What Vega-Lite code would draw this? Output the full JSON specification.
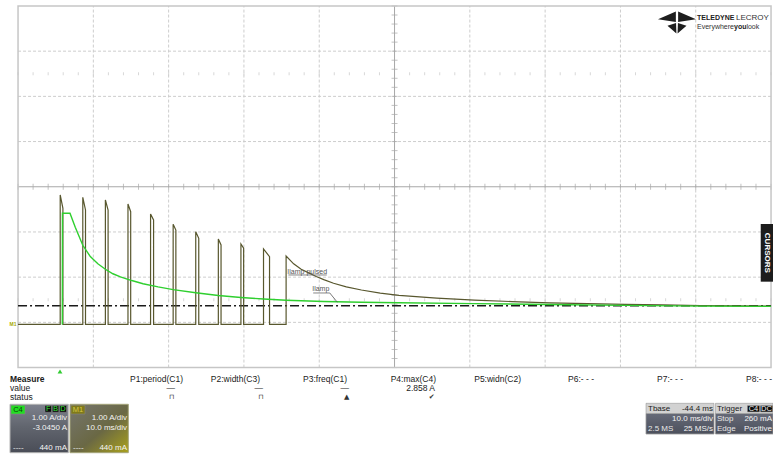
{
  "$schema": "https://vega.github.io/schema/vega-lite/v6.json",
  "padding": 0,
  "spacing": 0,
  "bounds": "flush",
  "background": "#ffffff",
  "config": {"view": {"stroke": null}, "font": "Liberation Sans"},
  "datasets": {
    "grid_t": [{"t": 4.4}, {"t": 14.4}, {"t": 24.4}, {"t": 34.4}, {"t": 54.4}, {"t": 64.4}, {"t": 74.4}, {"t": 84.4}],
    "grid_a": [{"a": 0.045}, {"a": 1.045}, {"a": 2.045}, {"a": 4.045}, {"a": 5.045}, {"a": 6.045}],
    "minor_t": [{"t": -5.6}, {"t": -3.6}, {"t": -1.6}, {"t": 0.4}, {"t": 2.4}, {"t": 4.4}, {"t": 6.4}, {"t": 8.4}, {"t": 10.4}, {"t": 12.4}, {"t": 14.4}, {"t": 16.4}, {"t": 18.4}, {"t": 20.4}, {"t": 22.4}, {"t": 24.4}, {"t": 26.4}, {"t": 28.4}, {"t": 30.4}, {"t": 32.4}, {"t": 34.4}, {"t": 36.4}, {"t": 38.4}, {"t": 40.4}, {"t": 42.4}, {"t": 44.4}, {"t": 46.4}, {"t": 48.4}, {"t": 50.4}, {"t": 52.4}, {"t": 54.4}, {"t": 56.4}, {"t": 58.4}, {"t": 60.4}, {"t": 62.4}, {"t": 64.4}, {"t": 66.4}, {"t": 68.4}, {"t": 70.4}, {"t": 72.4}, {"t": 74.4}, {"t": 76.4}, {"t": 78.4}, {"t": 80.4}, {"t": 82.4}, {"t": 84.4}, {"t": 86.4}, {"t": 88.4}, {"t": 90.4}, {"t": 92.4}, {"t": 94.4}],
    "minor_a": [{"a": -0.955}, {"a": -0.755}, {"a": -0.555}, {"a": -0.355}, {"a": -0.155}, {"a": 0.045}, {"a": 0.245}, {"a": 0.445}, {"a": 0.645}, {"a": 0.845}, {"a": 1.045}, {"a": 1.245}, {"a": 1.445}, {"a": 1.645}, {"a": 1.845}, {"a": 2.045}, {"a": 2.245}, {"a": 2.445}, {"a": 2.645}, {"a": 2.845}, {"a": 3.045}, {"a": 3.245}, {"a": 3.445}, {"a": 3.645}, {"a": 3.845}, {"a": 4.045}, {"a": 4.245}, {"a": 4.445}, {"a": 4.645}, {"a": 4.845}, {"a": 5.045}, {"a": 5.245}, {"a": 5.445}, {"a": 5.645}, {"a": 5.845}, {"a": 6.045}, {"a": 6.245}, {"a": 6.445}, {"a": 6.645}, {"a": 6.845}, {"a": 7.045}],
    "frame": [{"t": -5.6, "t2": 94.4, "a": -0.955, "a2": 7.045}],
    "reference": [{"t": -5.6, "t2": 94.4, "a": 0.414}],
    "pulsed": [
      {"t": -5.6, "a": 0}, {"t": 0, "a": 0}, {"t": 0, "a": 2.863}, {"t": 0.36, "a": 2.569}, {"t": 0.36, "a": 0},
      {"t": 3, "a": 0}, {"t": 3, "a": 2.812}, {"t": 3.36, "a": 2.531}, {"t": 3.36, "a": 0},
      {"t": 6, "a": 0}, {"t": 6, "a": 2.752}, {"t": 6.36, "a": 2.531}, {"t": 6.36, "a": 0},
      {"t": 9, "a": 0}, {"t": 9, "a": 2.664}, {"t": 9.36, "a": 2.493}, {"t": 9.36, "a": 0},
      {"t": 12, "a": 0}, {"t": 12, "a": 2.442}, {"t": 12.4, "a": 2.31}, {"t": 12.4, "a": 0},
      {"t": 15, "a": 0}, {"t": 15, "a": 2.215}, {"t": 15.36, "a": 2.088}, {"t": 15.36, "a": 0},
      {"t": 18, "a": 0}, {"t": 18, "a": 2.051}, {"t": 18.4, "a": 1.905}, {"t": 18.4, "a": 0},
      {"t": 21, "a": 0}, {"t": 21, "a": 1.889}, {"t": 21.36, "a": 1.757}, {"t": 21.36, "a": 0},
      {"t": 24, "a": 0}, {"t": 24, "a": 1.779}, {"t": 24.36, "a": 1.684}, {"t": 24.36, "a": 0},
      {"t": 27, "a": 0}, {"t": 27, "a": 1.668}, {"t": 27.8, "a": 1.498}, {"t": 27.8, "a": 0},
      {"t": 30, "a": 0}, {"t": 30, "a": 1.513}, {"t": 31, "a": 1.34}, {"t": 32, "a": 1.22}, {"t": 33, "a": 1.14}, {"t": 34, "a": 1.06}, {"t": 35, "a": 0.99}, {"t": 36.3, "a": 0.91}, {"t": 38, "a": 0.83}, {"t": 40, "a": 0.76}, {"t": 42.5, "a": 0.69}, {"t": 45, "a": 0.64}, {"t": 50, "a": 0.58}, {"t": 55, "a": 0.535}, {"t": 60, "a": 0.505}, {"t": 65, "a": 0.478}, {"t": 70, "a": 0.458}, {"t": 75, "a": 0.442}, {"t": 80, "a": 0.43}, {"t": 85, "a": 0.418}, {"t": 90, "a": 0.41}, {"t": 94.4, "a": 0.405}
    ],
    "lamp": [
      {"t": 0.28, "a": 0}, {"t": 0.3, "a": 2.458}, {"t": 1.3, "a": 2.458}, {"t": 2.0, "a": 2.15}, {"t": 3.0, "a": 1.75}, {"t": 4.0, "a": 1.5}, {"t": 5.0, "a": 1.34}, {"t": 6.0, "a": 1.22}, {"t": 7.0, "a": 1.12}, {"t": 8.0, "a": 1.05}, {"t": 9.5, "a": 0.97}, {"t": 11, "a": 0.9}, {"t": 13, "a": 0.83}, {"t": 15, "a": 0.77}, {"t": 18, "a": 0.7}, {"t": 21, "a": 0.64}, {"t": 24, "a": 0.595}, {"t": 27, "a": 0.56}, {"t": 30, "a": 0.535}, {"t": 35, "a": 0.505}, {"t": 40, "a": 0.49}, {"t": 45, "a": 0.478}, {"t": 55, "a": 0.46}, {"t": 65, "a": 0.44}, {"t": 75, "a": 0.42}, {"t": 85, "a": 0.405}, {"t": 94.4, "a": 0.398}
    ],
    "notes": [{"t": 32.8, "a": 1.159, "label": "Ilamp pulsed"}, {"t": 34.6, "a": 0.783, "label": "Ilamp"}],
    "underlines": [{"t": 30.3, "t2": 35.4, "a": 1.093}, {"t": 33.6, "t2": 35.8, "a": 0.695}],
    "leaders": [{"t": 35.8, "a": 0.695, "t2": 36.8, "a2": 0.49}],
    "tab": [{"t": 93.03, "t2": 94.66, "a": 0.945, "a2": 2.221}],
    "tab_label": [{"t": 93.85, "a": 1.583, "label": "CURSORS"}],
    "logo_mark": [{"t": 81.91, "a": 6.69}],
    "logo_bold": [{"t": 84.57, "a": 6.768, "label": "TELEDYNE"}, {"t": 89.48, "a": 6.58, "label": "you"}],
    "logo_big": [{"t": 89.75, "a": 6.768, "label": "LECROY"}],
    "logo_small": [{"t": 84.57, "a": 6.58, "label": "Everywhere"}, {"t": 91.13, "a": 6.58, "label": "look"}],
    "ch_marker": [{"t": -6.27, "a": 0, "label": "M1"}],
    "panel_title": [{"col": 10, "row": 11, "label": "Measure"}],
    "panel_rowlabels": [{"col": 10, "row": 20, "label": "value"}, {"col": 10, "row": 28.5, "label": "status"}],
    "panel_headers": [
      {"col": 183, "row": 11, "label": "P1:period(C1)"}, {"col": 260, "row": 11, "label": "P2:width(C3)"}, {"col": 347, "row": 11, "label": "P3:freq(C1)"}, {"col": 436, "row": 11, "label": "P4:max(C4)"}, {"col": 521, "row": 11, "label": "P5:widn(C2)"}, {"col": 594, "row": 11, "label": "P6:- - -"}, {"col": 683, "row": 11, "label": "P7:- - -"}, {"col": 772, "row": 11, "label": "P8:- - -"},
      {"col": 175, "row": 20, "label": "—"}, {"col": 263, "row": 20, "label": "—"}, {"col": 349, "row": 20, "label": "—"}, {"col": 435, "row": 20, "label": "2.858 A"}
    ],
    "panel_icons": [{"col": 171.7, "row": 28.5, "label": "⊓"}, {"col": 261, "row": 28.5, "label": "⊓"}, {"col": 346.7, "row": 28.5, "label": "▲"}, {"col": 431.7, "row": 28.5, "label": "✔"}],
    "box_c4": [{"col": 10, "col2": 68.3, "row": 36.3, "row2": 84.7}],
    "box_m1": [{"col": 70, "col2": 128.3, "row": 36.3, "row2": 84.7}],
    "box_bodies": [{"col": 646, "col2": 714, "row": 45.5, "row2": 66}, {"col": 715.5, "col2": 773, "row": 45.5, "row2": 66}],
    "badges": [
      {"col": 646, "col2": 714, "row": 35.3, "row2": 45.5, "kind": "head"}, {"col": 715.5, "col2": 773, "row": 35.3, "row2": 45.5, "kind": "head"},
      {"col": 11, "col2": 25, "row": 37.3, "row2": 46, "kind": "C4"}, {"col": 71, "col2": 85, "row": 37.3, "row2": 46, "kind": "M1"},
      {"col": 45, "col2": 51.5, "row": 37.5, "row2": 44.2, "kind": "flag"}, {"col": 52.3, "col2": 58.8, "row": 37.5, "row2": 44.2, "kind": "flag"}, {"col": 59.6, "col2": 66.5, "row": 37.5, "row2": 44.2, "kind": "flag"},
      {"col": 747.5, "col2": 759.5, "row": 37.7, "row2": 43.9, "kind": "flag"}, {"col": 760.5, "col2": 772.5, "row": 37.7, "row2": 43.9, "kind": "flag"}
    ],
    "badge_labels": [
      {"col": 18, "row": 41.7, "label": "C4", "kind": "C4"}, {"col": 78, "row": 41.7, "label": "M1", "kind": "M1"},
      {"col": 48.3, "row": 40.9, "label": "F", "kind": "flag"}, {"col": 55.5, "row": 40.9, "label": "B", "kind": "flag"}, {"col": 63, "row": 40.9, "label": "D", "kind": "flag"},
      {"col": 753.5, "row": 40.8, "label": "C4", "kind": "trig"}, {"col": 766.5, "row": 40.8, "label": "DC", "kind": "trig"}
    ],
    "box_right": [
      {"col": 67, "row": 49.7, "label": "1.00 A/div"}, {"col": 67, "row": 60.3, "label": "-3.0450 A"}, {"col": 67, "row": 80.3, "label": "440 mA"},
      {"col": 127, "row": 50.3, "label": "1.00 A/div"}, {"col": 127, "row": 60.3, "label": "10.0 ms/div"}, {"col": 127, "row": 80.3, "label": "440 mA"},
      {"col": 713, "row": 50.5, "label": "10.0 ms/div"}, {"col": 713, "row": 60.5, "label": "25 MS/s"},
      {"col": 772, "row": 50.5, "label": "260 mA"}, {"col": 772, "row": 60.5, "label": "Positive"}
    ],
    "box_left": [
      {"col": 13, "row": 80.3, "label": "----"}, {"col": 73, "row": 80.3, "label": "----"},
      {"col": 648, "row": 60.5, "label": "2.5 MS"}, {"col": 717, "row": 50.5, "label": "Stop"}, {"col": 717, "row": 60.5, "label": "Edge"}
    ],
    "head_left": [{"col": 648, "row": 40.5, "label": "Tbase"}, {"col": 717, "row": 40.5, "label": "Trigger"}],
    "head_right": [{"col": 713, "row": 40.5, "label": "-44.4 ms"}],
    "trigger": [{"col": 60, "row": 3.5}]
  },
  "vconcat": [
    {
      "width": 773,
      "height": 368,
      "layer": [
        {"data": {"name": "grid_t"}, "mark": {"type": "rule", "color": "#cdcdcd", "strokeWidth": 1, "strokeDash": [3, 2]},
         "encoding": {"x": {"field": "t", "type": "quantitative", "scale": {"domain": [-7.995, 94.66], "nice": false, "zero": false}, "axis": null},
                      "y": {"datum": -0.955, "type": "quantitative", "scale": {"domain": [-0.965, 7.177], "nice": false, "zero": false}, "axis": null},
                      "y2": {"datum": 7.045}}},
        {"data": {"name": "grid_a"}, "mark": {"type": "rule", "color": "#cdcdcd", "strokeWidth": 1, "strokeDash": [3, 2]},
         "encoding": {"y": {"field": "a", "type": "quantitative", "scale": {"domain": [-0.965, 7.177], "nice": false, "zero": false}, "axis": null},
                      "x": {"datum": -5.6, "type": "quantitative", "scale": {"domain": [-7.995, 94.66], "nice": false, "zero": false}, "axis": null},
                      "x2": {"datum": 94.4}}},
        {"data": {"name": "minor_t"}, "mark": {"type": "tick", "orient": "vertical", "size": 3, "thickness": 1, "color": "#c8c8c8"},
         "encoding": {"x": {"field": "t", "type": "quantitative", "scale": {"domain": [-7.995, 94.66], "nice": false, "zero": false}, "axis": null},
                      "y": {"datum": 5.545, "type": "quantitative", "scale": {"domain": [-0.965, 7.177], "nice": false, "zero": false}, "axis": null}}},
        {"data": {"name": "minor_t"}, "mark": {"type": "tick", "orient": "vertical", "size": 3, "thickness": 1, "color": "#c8c8c8"},
         "encoding": {"x": {"field": "t", "type": "quantitative", "scale": {"domain": [-7.995, 94.66], "nice": false, "zero": false}, "axis": null},
                      "y": {"datum": 0.545, "type": "quantitative", "scale": {"domain": [-0.965, 7.177], "nice": false, "zero": false}, "axis": null}}},
        {"data": {"name": "minor_t"}, "mark": {"type": "tick", "orient": "vertical", "size": 6, "thickness": 1, "color": "#a8a8a8"},
         "encoding": {"x": {"field": "t", "type": "quantitative", "scale": {"domain": [-7.995, 94.66], "nice": false, "zero": false}, "axis": null},
                      "y": {"datum": 3.045, "type": "quantitative", "scale": {"domain": [-0.965, 7.177], "nice": false, "zero": false}, "axis": null}}},
        {"data": {"name": "minor_a"}, "mark": {"type": "tick", "orient": "horizontal", "size": 6, "thickness": 1, "color": "#a8a8a8"},
         "encoding": {"y": {"field": "a", "type": "quantitative", "scale": {"domain": [-0.965, 7.177], "nice": false, "zero": false}, "axis": null},
                      "x": {"datum": 44.4, "type": "quantitative", "scale": {"domain": [-7.995, 94.66], "nice": false, "zero": false}, "axis": null}}},
        {"data": {"name": "frame"}, "mark": {"type": "rule", "color": "#a8a8a8", "strokeWidth": 1},
         "encoding": {"x": {"field": "t", "type": "quantitative", "scale": {"domain": [-7.995, 94.66], "nice": false, "zero": false}, "axis": null},
                      "x2": {"field": "t2"},
                      "y": {"datum": 3.045, "type": "quantitative", "scale": {"domain": [-0.965, 7.177], "nice": false, "zero": false}, "axis": null}}},
        {"data": {"name": "frame"}, "mark": {"type": "rule", "color": "#a8a8a8", "strokeWidth": 1},
         "encoding": {"y": {"field": "a", "type": "quantitative", "scale": {"domain": [-0.965, 7.177], "nice": false, "zero": false}, "axis": null},
                      "y2": {"field": "a2"},
                      "x": {"datum": 44.4, "type": "quantitative", "scale": {"domain": [-7.995, 94.66], "nice": false, "zero": false}, "axis": null}}},
        {"data": {"name": "frame"}, "mark": {"type": "rect", "fill": null, "fillOpacity": 0, "stroke": "#c6c6c6", "strokeWidth": 1.5},
         "encoding": {"x": {"field": "t", "type": "quantitative", "scale": {"domain": [-7.995, 94.66], "nice": false, "zero": false}, "axis": null},
                      "x2": {"field": "t2"},
                      "y": {"field": "a", "type": "quantitative", "scale": {"domain": [-0.965, 7.177], "nice": false, "zero": false}, "axis": null},
                      "y2": {"field": "a2"}}},
        {"data": {"name": "reference"}, "mark": {"type": "rule", "color": "#1a1a1a", "strokeWidth": 1.5, "strokeDash": [9, 3, 2, 3]},
         "encoding": {"x": {"field": "t", "type": "quantitative", "scale": {"domain": [-7.995, 94.66], "nice": false, "zero": false}, "axis": null},
                      "x2": {"field": "t2"},
                      "y": {"field": "a", "type": "quantitative", "scale": {"domain": [-0.965, 7.177], "nice": false, "zero": false}, "axis": null}}},
        {"data": {"name": "pulsed"}, "mark": {"type": "line", "color": "#58572e", "strokeWidth": 1.2},
         "encoding": {"x": {"field": "t", "type": "quantitative", "scale": {"domain": [-7.995, 94.66], "nice": false, "zero": false}, "axis": null},
                      "y": {"field": "a", "type": "quantitative", "scale": {"domain": [-0.965, 7.177], "nice": false, "zero": false}, "axis": null},
                      "order": {"value": null}}},
        {"data": {"name": "lamp"}, "mark": {"type": "line", "color": "#2fcf2f", "strokeWidth": 1.4},
         "encoding": {"x": {"field": "t", "type": "quantitative", "scale": {"domain": [-7.995, 94.66], "nice": false, "zero": false}, "axis": null},
                      "y": {"field": "a", "type": "quantitative", "scale": {"domain": [-0.965, 7.177], "nice": false, "zero": false}, "axis": null},
                      "order": {"value": null}}},
        {"data": {"name": "notes"}, "mark": {"type": "text", "fontSize": 7, "color": "#555555", "align": "center", "baseline": "middle"},
         "encoding": {"x": {"field": "t", "type": "quantitative", "scale": {"domain": [-7.995, 94.66], "nice": false, "zero": false}, "axis": null},
                      "y": {"field": "a", "type": "quantitative", "scale": {"domain": [-0.965, 7.177], "nice": false, "zero": false}, "axis": null},
                      "text": {"field": "label"}}},
        {"data": {"name": "underlines"}, "mark": {"type": "rule", "color": "#666666", "strokeWidth": 0.8},
         "encoding": {"x": {"field": "t", "type": "quantitative", "scale": {"domain": [-7.995, 94.66], "nice": false, "zero": false}, "axis": null},
                      "x2": {"field": "t2"},
                      "y": {"field": "a", "type": "quantitative", "scale": {"domain": [-0.965, 7.177], "nice": false, "zero": false}, "axis": null}}},
        {"data": {"name": "leaders"}, "mark": {"type": "rule", "color": "#555555", "strokeWidth": 0.8},
         "encoding": {"x": {"field": "t", "type": "quantitative", "scale": {"domain": [-7.995, 94.66], "nice": false, "zero": false}, "axis": null},
                      "x2": {"field": "t2"},
                      "y": {"field": "a", "type": "quantitative", "scale": {"domain": [-0.965, 7.177], "nice": false, "zero": false}, "axis": null},
                      "y2": {"field": "a2"}}},
        {"data": {"name": "tab"}, "mark": {"type": "rect", "color": "#1c1c1c"},
         "encoding": {"x": {"field": "t", "type": "quantitative", "scale": {"domain": [-7.995, 94.66], "nice": false, "zero": false}, "axis": null},
                      "x2": {"field": "t2"},
                      "y": {"field": "a", "type": "quantitative", "scale": {"domain": [-0.965, 7.177], "nice": false, "zero": false}, "axis": null},
                      "y2": {"field": "a2"}}},
        {"data": {"name": "tab_label"}, "mark": {"type": "text", "angle": 90, "fontSize": 8, "fontWeight": "bold", "color": "#ffffff", "align": "center", "baseline": "middle"},
         "encoding": {"x": {"field": "t", "type": "quantitative", "scale": {"domain": [-7.995, 94.66], "nice": false, "zero": false}, "axis": null},
                      "y": {"field": "a", "type": "quantitative", "scale": {"domain": [-0.965, 7.177], "nice": false, "zero": false}, "axis": null},
                      "text": {"field": "label"}}},
        {"data": {"name": "logo_mark"}, "mark": {"type": "point", "shape": "M-1,-0.15 L-0.06,-0.55 L-0.06,0 Z M1,-0.15 L0.06,-0.55 L0.06,0 Z M-0.05,0.05 L-0.03,0.6 L-0.5,0.2 Z M0.05,0.05 L0.03,0.6 L0.5,0.2 Z", "filled": true, "size": 1444, "color": "#1e1e1e", "opacity": 1, "strokeWidth": 0},
         "encoding": {"x": {"field": "t", "type": "quantitative", "scale": {"domain": [-7.995, 94.66], "nice": false, "zero": false}, "axis": null},
                      "y": {"field": "a", "type": "quantitative", "scale": {"domain": [-0.965, 7.177], "nice": false, "zero": false}, "axis": null}}},
        {"data": {"name": "logo_bold"}, "mark": {"type": "text", "fontSize": 7, "fontWeight": "bold", "color": "#222222", "align": "left", "baseline": "middle"},
         "encoding": {"x": {"field": "t", "type": "quantitative", "scale": {"domain": [-7.995, 94.66], "nice": false, "zero": false}, "axis": null},
                      "y": {"field": "a", "type": "quantitative", "scale": {"domain": [-0.965, 7.177], "nice": false, "zero": false}, "axis": null},
                      "text": {"field": "label"}}},
        {"data": {"name": "logo_big"}, "mark": {"type": "text", "fontSize": 8, "color": "#333333", "align": "left", "baseline": "middle"},
         "encoding": {"x": {"field": "t", "type": "quantitative", "scale": {"domain": [-7.995, 94.66], "nice": false, "zero": false}, "axis": null},
                      "y": {"field": "a", "type": "quantitative", "scale": {"domain": [-0.965, 7.177], "nice": false, "zero": false}, "axis": null},
                      "text": {"field": "label"}}},
        {"data": {"name": "logo_small"}, "mark": {"type": "text", "fontSize": 7, "color": "#333333", "align": "left", "baseline": "middle"},
         "encoding": {"x": {"field": "t", "type": "quantitative", "scale": {"domain": [-7.995, 94.66], "nice": false, "zero": false}, "axis": null},
                      "y": {"field": "a", "type": "quantitative", "scale": {"domain": [-0.965, 7.177], "nice": false, "zero": false}, "axis": null},
                      "text": {"field": "label"}}},
        {"data": {"name": "ch_marker"}, "mark": {"type": "text", "fontSize": 5, "fontWeight": "bold", "color": "#a4a800", "align": "center", "baseline": "middle"},
         "encoding": {"x": {"field": "t", "type": "quantitative", "scale": {"domain": [-7.995, 94.66], "nice": false, "zero": false}, "axis": null},
                      "y": {"field": "a", "type": "quantitative", "scale": {"domain": [-0.965, 7.177], "nice": false, "zero": false}, "axis": null},
                      "text": {"field": "label"}}}
      ]
    },
    {
      "width": 773,
      "height": 87,
      "encoding": {
        "x": {"field": "col", "type": "quantitative", "scale": {"domain": [0, 773], "nice": false, "zero": false}, "axis": null},
        "y": {"field": "row", "type": "quantitative", "scale": {"domain": [0, 87], "nice": false, "zero": false, "reverse": true}, "axis": null}
      },
      "resolve": {"scale": {"color": "independent"}},
      "layer": [
        {"data": {"name": "box_c4"}, "mark": {"type": "rect", "fill": {"gradient": "linear", "x1": 0, "y1": 0, "x2": 0, "y2": 1, "stops": [{"offset": 0, "color": "#7d818d"}, {"offset": 0.45, "color": "#62666f"}, {"offset": 1, "color": "#4a4d57"}]}, "stroke": "#b4b4b4", "strokeWidth": 1}, "encoding": {"x2": {"field": "col2"}, "y2": {"field": "row2"}}},
        {"data": {"name": "box_m1"}, "mark": {"type": "rect", "fill": {"gradient": "linear", "x1": 0, "y1": 0, "x2": 1, "y2": 1, "stops": [{"offset": 0, "color": "#76766f"}, {"offset": 0.55, "color": "#6a6844"}, {"offset": 1, "color": "#a9a11c"}]}, "stroke": "#a4a47a", "strokeWidth": 1}, "encoding": {"x2": {"field": "col2"}, "y2": {"field": "row2"}}},
        {"data": {"name": "box_bodies"}, "mark": {"type": "rect", "fill": {"gradient": "linear", "x1": 0, "y1": 0, "x2": 0, "y2": 1, "stops": [{"offset": 0, "color": "#666a78"}, {"offset": 1, "color": "#4c505c"}]}, "stroke": "#9a9a9a", "strokeWidth": 0.8}, "encoding": {"x2": {"field": "col2"}, "y2": {"field": "row2"}}},
        {"data": {"name": "badges"}, "mark": {"type": "rect", "stroke": "#8a8a8a", "strokeWidth": 0.5}, "encoding": {"x2": {"field": "col2"}, "y2": {"field": "row2"}, "color": {"field": "kind", "type": "nominal", "scale": {"domain": ["head", "C4", "M1", "flag"], "range": ["#d2d2d2", "#22dd22", "#807a1a", "#0a0a0a"]}, "legend": null}}},
        {"data": {"name": "badge_labels"}, "mark": {"type": "text", "fontSize": 7.5, "align": "center", "baseline": "middle"}, "encoding": {"text": {"field": "label"}, "color": {"field": "kind", "type": "nominal", "scale": {"domain": ["C4", "M1", "flag", "trig"], "range": ["#0b3d0b", "#d4c84a", "#3ee03e", "#f0f0f0"]}, "legend": null}}},
        {"data": {"name": "panel_title"}, "mark": {"type": "text", "fontSize": 8.5, "fontWeight": "bold", "color": "#1a1a1a", "align": "left", "baseline": "middle"}, "encoding": {"text": {"field": "label"}}},
        {"data": {"name": "panel_rowlabels"}, "mark": {"type": "text", "fontSize": 8.5, "color": "#1a1a1a", "align": "left", "baseline": "middle"}, "encoding": {"text": {"field": "label"}}},
        {"data": {"name": "panel_headers"}, "mark": {"type": "text", "fontSize": 8.5, "color": "#1a1a1a", "align": "right", "baseline": "middle"}, "encoding": {"text": {"field": "label"}}},
        {"data": {"name": "panel_icons"}, "mark": {"type": "text", "font": "DejaVu Sans", "fontSize": 7, "color": "#333333", "align": "center", "baseline": "middle"}, "encoding": {"text": {"field": "label"}}},
        {"data": {"name": "box_right"}, "mark": {"type": "text", "fontSize": 8, "color": "#f4f4f4", "align": "right", "baseline": "middle"}, "encoding": {"text": {"field": "label"}}},
        {"data": {"name": "box_left"}, "mark": {"type": "text", "fontSize": 8, "color": "#e8e8e8", "align": "left", "baseline": "middle"}, "encoding": {"text": {"field": "label"}}},
        {"data": {"name": "head_left"}, "mark": {"type": "text", "fontSize": 8, "color": "#1a1a1a", "align": "left", "baseline": "middle"}, "encoding": {"text": {"field": "label"}}},
        {"data": {"name": "head_right"}, "mark": {"type": "text", "fontSize": 8, "color": "#1a1a1a", "align": "right", "baseline": "middle"}, "encoding": {"text": {"field": "label"}}},
        {"data": {"name": "trigger"}, "mark": {"type": "point", "shape": "triangle-up", "filled": true, "size": 24, "color": "#33cc33", "opacity": 1}}
      ]
    }
  ]
}
